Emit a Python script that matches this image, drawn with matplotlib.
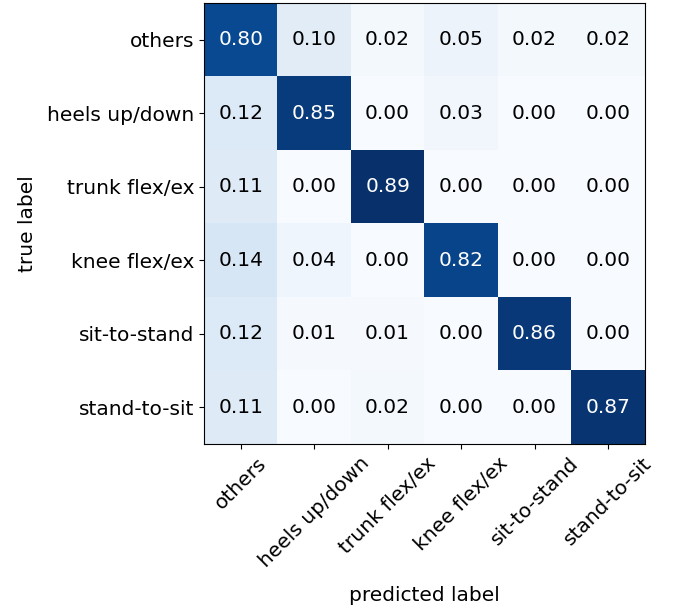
import numpy as np
import matplotlib
matplotlib.use("Agg")
import matplotlib.pyplot as plt

classes = ["others", "heels up/down", "trunk flex/ex", "knee flex/ex",
           "sit-to-stand", "stand-to-sit"]

row_others = [0.80, 0.10, 0.02, 0.05, 0.02, 0.02]
row_heels = [0.12, 0.85, 0.00, 0.03, 0.00, 0.00]
row_trunk = [0.11, 0.00, 0.89, 0.00, 0.00, 0.00]
row_knee = [0.14, 0.04, 0.00, 0.82, 0.00, 0.00]
row_sit = [0.12, 0.01, 0.01, 0.00, 0.86, 0.00]
row_stand = [0.11, 0.00, 0.02, 0.00, 0.00, 0.87]

cm = np.array([row_others, row_heels, row_trunk, row_knee, row_sit, row_stand])

fs = 14.5
fig = plt.figure(figsize=(6.73, 6.14), dpi=100)
ax = fig.add_axes([0.303, 0.277, 0.655, 0.718])
ax.imshow(cm, interpolation="nearest", cmap=plt.cm.Blues, aspect="auto")

ticks = np.arange(len(classes))
ax.set_xticks(ticks)
ax.set_yticks(ticks)
ax.set_xticklabels(classes, rotation=45, fontsize=fs)
ax.set_yticklabels(classes, fontsize=fs)

thresh = cm.max() / 2.0
for i in range(cm.shape[0]):
    for j in range(cm.shape[1]):
        ax.text(j, i, f"{cm[i, j]:.2f}", ha="center", va="center", fontsize=fs,
                color="white" if cm[i, j] > thresh else "black")

ax.set_ylabel("true label", fontsize=fs, labelpad=7.5)
ax.set_xlabel("predicted label", fontsize=fs, labelpad=11)

fig.savefig("out.png", dpi=100)
